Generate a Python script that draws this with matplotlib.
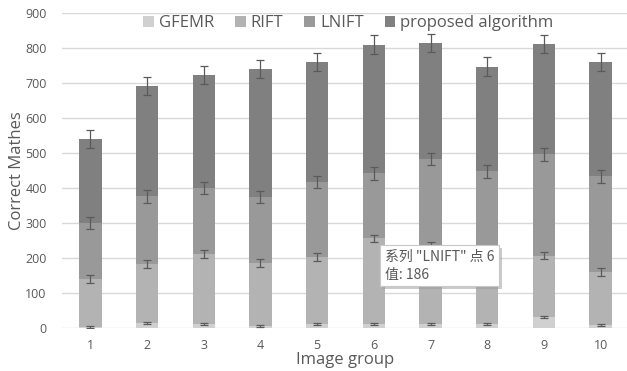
import numpy as np
import matplotlib
matplotlib.use("Agg")
import matplotlib.pyplot as plt
import matplotlib.patheffects as pe

plt.rcParams['font.family'] = ['Open Sans', 'DejaVu Sans']

# data (segment heights of the stacked bars)
groups = ['1', '2', '3', '4', '5', '6', '7', '8', '9', '10']
gfemr = [3, 14, 12, 5, 11, 11, 12, 12, 31, 8]
rift = [137, 169, 199, 181, 191, 245, 223, 188, 176, 153]
lnift = [160, 193, 189, 188, 215, 186, 248, 248, 289, 272]
proposed = [240, 315, 322, 366, 343, 368, 331, 299, 316, 327]

# error bar half-lengths (one per series)
err_gfemr = 2.5
err_rift = 11
err_lnift = 18
err_proposed = 26

series_names = ['GFEMR', 'RIFT', 'LNIFT', 'proposed algorithm']
colors = ['#d0d0d0', '#b3b3b3', '#999999', '#808080']
text_col = '#595959'

fig = plt.figure(figsize=(6.27, 3.71), dpi=100)
ax = fig.add_axes([62 / 627, 43 / 371, 567 / 627, 315 / 371])

x = np.arange(1, len(groups) + 1)
bottom = np.zeros(len(groups))
for vals, err, name, col in zip([gfemr, rift, lnift, proposed],
                                [err_gfemr, err_rift, err_lnift, err_proposed],
                                series_names, colors):
    vals = np.array(vals, dtype=float)
    ax.bar(x, vals, width=0.395, bottom=bottom, color=col, label=name, zorder=2)
    ax.errorbar(x, bottom + vals, yerr=err, fmt='none', ecolor='#5a5a5a',
                elinewidth=0.9, capsize=3, capthick=0.9, zorder=3)
    bottom += vals

ax.set_xlim(0.5, 10.5)
ax.set_ylim(0, 900)
ax.set_yticks(np.arange(0, 901, 100))
ax.set_xticks(x)
ax.set_xticklabels(groups)
ax.grid(axis='y', color='#d9d9d9', linewidth=1, zorder=0)
for s in ax.spines.values():
    s.set_visible(False)
ax.tick_params(length=0, labelsize=9, colors=text_col, pad=8)
ax.tick_params(axis='y', pad=11)

ax.set_xlabel('Image group', fontsize=12, color=text_col, labelpad=0)
ax.set_ylabel('Correct Mathes', fontsize=12, color=text_col, labelpad=0)

ax.legend(loc='upper center', bbox_to_anchor=(0.505, 1.04), ncol=4, frameon=False,
          fontsize=12, labelcolor=text_col, handlelength=0.65, handleheight=0.65,
          handletextpad=0.3, columnspacing=1.25)

# tooltip shown in the reference
tip = ax.text(6.19, 222, '系列 "LNIFT" 点 6\n值: 186', fontsize=10,
              family=['Noto Sans CJK SC', 'DejaVu Sans'], color=text_col,
              va='top', ha='left', linespacing=1.3, zorder=6,
              bbox=dict(boxstyle='square,pad=0.35', facecolor='white',
                        edgecolor='#c8c8c8', linewidth=0.8))
tip.get_bbox_patch().set_path_effects([
    pe.withSimplePatchShadow(offset=(2, -2), shadow_rgbFace='#999999', alpha=0.5)])

fig.savefig('out.png', dpi=100)
